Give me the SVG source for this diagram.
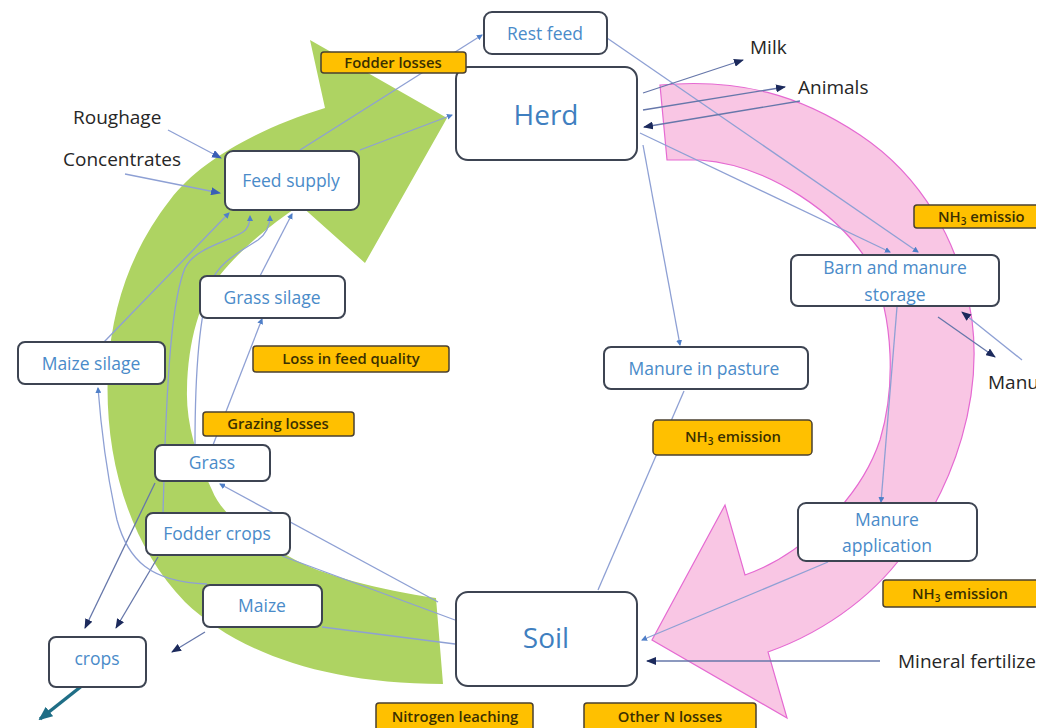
<svg xmlns="http://www.w3.org/2000/svg" width="1053" height="728" viewBox="0 0 1053 728">
<defs>
<style>
.node{fill:#fff;stroke:#3d4452;stroke-width:2}
.lbl{fill:#ffc000;stroke:#4a4030;stroke-width:1.5}
.nt{font-family:"Open Sans","Liberation Sans",sans-serif;font-size:17.5px;fill:#4a8bc9;text-anchor:middle}
.big{font-family:"Open Sans","Liberation Sans",sans-serif;font-size:28px;fill:#3f7fc0;text-anchor:middle}
.ext{font-family:"Open Sans","Liberation Sans",sans-serif;font-size:19px;fill:#262626}
.lt{font-family:"Open Sans","Liberation Sans",sans-serif;font-size:14.8px;font-weight:600;fill:#3b3000;text-anchor:middle}
.ln{fill:none;stroke:#8ea0d4;stroke-width:1.3}
.dk{fill:none;stroke:#6677aa;stroke-width:1.3}
</style>
<marker id="ah" markerWidth="10" markerHeight="8" refX="9" refY="4" orient="auto" markerUnits="userSpaceOnUse"><path d="M0,0 L10,4 L0,8 z" fill="#1c2a5c"/></marker>
<marker id="ahb" markerWidth="10" markerHeight="8" refX="9" refY="4" orient="auto" markerUnits="userSpaceOnUse"><path d="M0,0 L10,4 L0,8 z" fill="#3a5eb5"/></marker>
<marker id="dot" markerWidth="6" markerHeight="6" refX="5" refY="3" orient="auto" markerUnits="userSpaceOnUse"><path d="M0,0 L6,3 L0,6 z" fill="#4f7fc8"/></marker>
<marker id="teal" markerWidth="14" markerHeight="12" refX="12" refY="6" orient="auto" markerUnits="userSpaceOnUse"><path d="M0,0 L14,6 L0,12 z" fill="#1f6e86"/></marker>
<clipPath id="cl"><rect x="0" y="0" width="1036" height="728"/></clipPath>
</defs>
<rect x="0" y="0" width="1053" height="728" fill="#fff"/>
<g clip-path="url(#cl)">
<g id="green-arrow">
<path d="M443,684 L436,598 C380,590 320,575 290,557 C250,535 222,515 212,490 C195,455 186,420 187,390 C188,340 200,300 220,275 C240,250 270,225 300,205 L365,263 L447,118 L310,40 L325,108 C260,128 200,160 170,200 C135,245 112,300 108,370 C104,450 125,540 185,602 C235,650 320,684 443,684 Z" fill="#aed362"/>
</g>
<g id="pink-arrow">
<path d="M660,85 C740,78 800,95 860,135 C920,175 960,240 972,320 C982,400 955,480 910,545 C880,590 830,630 768,652 L787,718 L652,640 L725,505 L745,575 C800,556 860,500 880,440 C895,390 895,320 870,265 C840,215 770,165 700,160 L667,160 Z" fill="#f9c6e4" stroke="#e56ad2" stroke-width="1.2"/>
</g>
<g id="connectors">
<path class="ln" d="M168,130 L221,158" marker-end="url(#ahb)"/>
<path class="ln" d="M125,174 L220,193" marker-end="url(#ahb)"/>
<path class="ln" d="M360,150 L452,115" marker-end="url(#dot)"/>
<path class="ln" d="M300,150 L482,35" marker-end="url(#dot)"/>
<path class="ln" d="M607,38 L918,252" marker-end="url(#dot)"/>
<path class="ln" d="M640,133 L890,252" marker-end="url(#dot)"/>
<path class="ln" d="M643,145 L680,345" marker-end="url(#dot)"/>
<path class="dk" d="M643,93 L743,60" marker-end="url(#ah)"/>
<path class="dk" d="M643,110 L785,87" marker-end="url(#ah)"/>
<path class="dk" d="M800,101 L644,127" marker-end="url(#ah)"/>
<path class="ln" d="M684,391 L598,590"/>
<path class="ln" d="M897,307 L881,502" marker-end="url(#dot)"/>
<path class="dk" d="M938,317 L995,357" marker-end="url(#ah)"/>
<path class="ln" d="M1022,360 L962,312" marker-end="url(#ah)"/>
<path class="ln" d="M828,562 L642,640" marker-end="url(#dot)"/>
<path class="dk" d="M880,661 L647,661" marker-end="url(#ah)"/>
<path class="ln" d="M438,602 L220,484" marker-end="url(#dot)"/>
<path class="ln" d="M455,620 L282,556"/>
<path class="ln" d="M322,627 L455,644"/>
<path class="dk" d="M205,632 L172,652" marker-end="url(#ah)"/>
<path class="dk" d="M155,483 L85,628" marker-end="url(#ah)"/>
<path class="dk" d="M158,557 L116,628" marker-end="url(#ah)"/>
<path d="M88,681 L40,719" fill="none" stroke="#1f6e86" stroke-width="3.5" marker-end="url(#teal)"/>
<path class="ln" d="M207,584 C150,582 128,560 117,520 C108,480 102,440 98,388" marker-end="url(#dot)"/>
<path class="ln" d="M104,342 L229,213" marker-end="url(#dot)"/>
<path class="ln" d="M260,276 L292,214" marker-end="url(#dot)"/>
<path class="ln" d="M213,445 L262,319" marker-end="url(#dot)"/>
<path class="ln" d="M163,513 L165,445 C168,370 172,300 185,268 C195,248 225,243 243,232 C249,228 250,222 250,216" marker-end="url(#dot)"/>
<path class="ln" d="M195,445 C195,380 198,320 210,285 C218,262 240,252 258,240 C266,234 270,225 270,216" marker-end="url(#dot)"/>
</g>
<g id="node-rest-feed"><rect class="node" x="484" y="12" width="123" height="42" rx="8"/><text class="nt" x="545" y="40">Rest feed</text></g>
<g id="node-herd"><rect class="node" x="456" y="67" width="181" height="93" rx="12"/><text class="big" x="546" y="125">Herd</text></g>
<g id="node-feed-supply"><rect class="node" x="225" y="151" width="134" height="59" rx="8"/><text class="nt" x="291" y="187">Feed supply</text></g>
<g id="node-grass-silage"><rect class="node" x="200" y="276" width="145" height="42" rx="7"/><text class="nt" x="272" y="304">Grass silage</text></g>
<g id="node-maize-silage"><rect class="node" x="18" y="342" width="147" height="42" rx="7"/><text class="nt" x="91" y="370">Maize silage</text></g>
<g id="node-grass"><rect class="node" x="155" y="445" width="115" height="36" rx="7"/><text class="nt" x="212" y="469">Grass</text></g>
<g id="node-fodder-crops"><rect class="node" x="146" y="513" width="144" height="42" rx="7"/><text class="nt" x="217" y="540">Fodder crops</text></g>
<g id="node-maize"><rect class="node" x="203" y="585" width="119" height="42" rx="7"/><text class="nt" x="262" y="612">Maize</text></g>
<g id="node-crops"><rect class="node" x="49" y="637" width="97" height="50" rx="7"/><text class="nt" x="97" y="665">crops</text></g>
<g id="node-soil"><rect class="node" x="456" y="592" width="181" height="94" rx="12"/><text class="big" x="546" y="648">Soil</text></g>
<g id="node-manure-pasture"><rect class="node" x="604" y="347" width="204" height="42" rx="7"/><text class="nt" x="704" y="375">Manure in pasture</text></g>
<g id="node-barn"><rect class="node" x="791" y="255" width="208" height="51" rx="7"/><text class="nt" x="895" y="274">Barn and manure</text><text class="nt" x="895" y="301">storage</text></g>
<g id="node-manure-application"><rect class="node" x="798" y="503" width="179" height="58" rx="8"/><text class="nt" x="887" y="526">Manure</text><text class="nt" x="887" y="552">application</text></g>
<g id="losses">
<g id="lbl-fodder-losses"><rect class="lbl" x="321" y="52" width="145" height="21" rx="3"/><text class="lt" x="393" y="68">Fodder losses</text></g>
<g id="lbl-nh3-top"><rect class="lbl" x="914" y="205" width="140" height="23" rx="3"/><text class="lt" x="938" y="222" style="text-anchor:start">NH<tspan font-size="10" dy="3">3</tspan><tspan dy="-3"> emissio</tspan></text></g>
<g id="lbl-loss-quality"><rect class="lbl" x="253" y="346" width="196" height="26" rx="3"/><text class="lt" x="351" y="364">Loss in feed quality</text></g>
<g id="lbl-grazing"><rect class="lbl" x="203" y="412" width="151" height="24" rx="3"/><text class="lt" x="278" y="429">Grazing losses</text></g>
<g id="lbl-nh3-mid"><rect class="lbl" x="653" y="420" width="159" height="35" rx="4"/><text class="lt" x="733" y="442">NH<tspan font-size="10" dy="3">3</tspan><tspan dy="-3"> emission</tspan></text></g>
<g id="lbl-nh3-low"><rect class="lbl" x="883" y="580" width="170" height="27" rx="3"/><text class="lt" x="960" y="599">NH<tspan font-size="10" dy="3">3</tspan><tspan dy="-3"> emission</tspan></text></g>
<g id="lbl-leaching"><rect class="lbl" x="376" y="703" width="157" height="30" rx="3"/><text class="lt" x="455" y="722">Nitrogen leaching</text></g>
<g id="lbl-other"><rect class="lbl" x="584" y="703" width="172" height="30" rx="3"/><text class="lt" x="670" y="722">Other N losses</text></g>
</g>
<g id="external-labels">
<text class="ext" x="750" y="54">Milk</text>
<text class="ext" x="798" y="94">Animals</text>
<text class="ext" x="73" y="124">Roughage</text>
<text class="ext" x="63" y="166">Concentrates</text>
<text class="ext" x="988" y="389">Manu</text>
<text class="ext" x="898" y="668">Mineral fertilize</text>
</g>
</g>
</svg>
